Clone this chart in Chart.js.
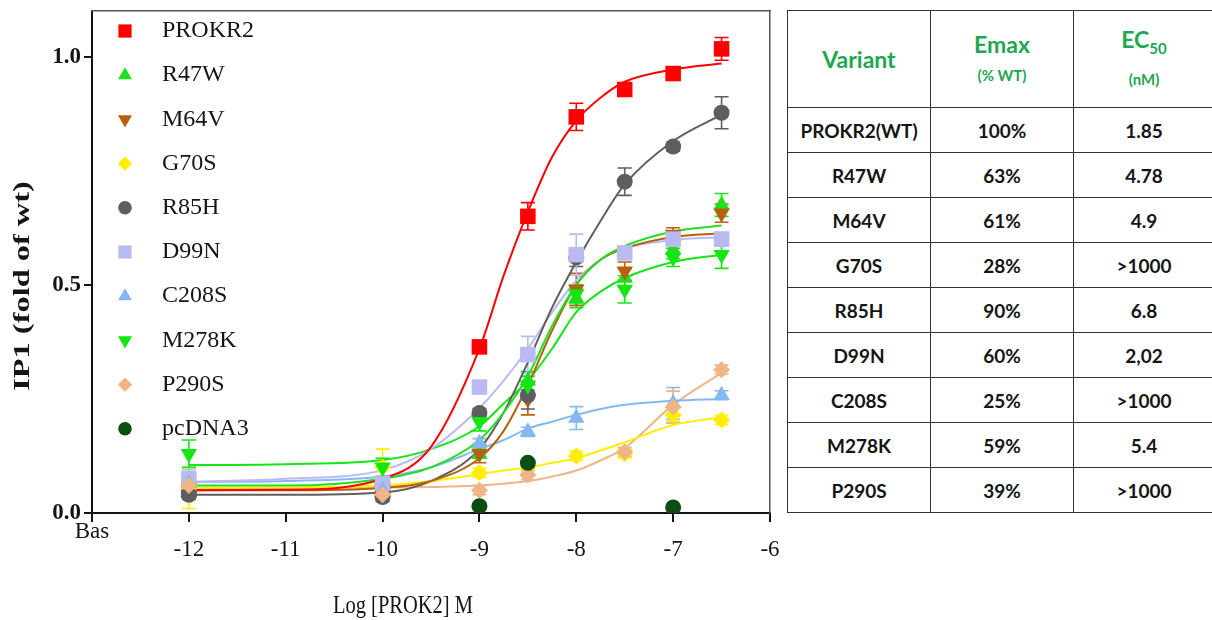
<!DOCTYPE html>
<html>
<head>
<meta charset="utf-8">
<script src="https://cdn.jsdelivr.net/npm/chart.js@4.4.1/dist/chart.umd.min.js"></script>
<style>
html,body{margin:0;padding:0;background:#fff;width:1212px;height:620px;overflow:hidden;}
#wrap{position:absolute;left:0;top:0;width:785px;height:620px;}
#tbl{position:absolute;left:787px;top:10px;border-collapse:collapse;table-layout:fixed;width:427px;
  font-family:Lato,"Open Sans",sans-serif;font-weight:700;}
#tbl td,#tbl th{border:1.5px solid #333;text-align:center;color:#151515;font-size:19px;padding:0;}
#tbl th{color:#22a650;font-size:23px;font-weight:700;line-height:28px;}
#tbl th small{font-size:15px;font-weight:700;}
#tbl th sub{font-size:15px;}
#tbl tbody tr{height:45px;}
</style>
</head>
<body>
<div id="wrap"><canvas id="c" width="785" height="620"></canvas></div>
<table id="tbl">
  <colgroup><col style="width:143px"><col style="width:143px"><col style="width:141px"></colgroup>
  <thead><tr style="height:97px"><th id="h0"></th><th id="h1"></th><th id="h2"></th></tr></thead>
  <tbody id="tb"></tbody>
</table>
<script>
// ---------- data ----------
const seriesNames = ['PROKR2','R47W','M64V','G70S','R85H','D99N','C208S','M278K','P290S','pcDNA3'];
const doses = [-12, -10, -9, -8.5, -8, -7.5, -7, -6.5];           // log[PROK2] M
const fitDoses = [-12, -11, -10, -9.5, -9, -8.75, -8.5, -8.25, -8, -7.75, -7.5, -7, -6.5];

const prokr2Vals = [0.05, 0.05, 0.364, 0.65, 0.868, 0.928, 0.963, 1.017];
const r47wVals   = [0.06, 0.07, 0.13, 0.29, 0.47, 0.515, 0.577, 0.675];
const m64vVals   = [0.05, 0.045, 0.13, 0.25, 0.49, 0.53, 0.61, 0.657];
const g70sVals   = [0.055, 0.10, 0.088, 0.10, 0.125, 0.13, 0.215, 0.204];
const r85hVals   = [0.04, 0.035, 0.219, 0.258, 0.56, 0.726, 0.803, 0.877];
const d99nVals   = [0.075, 0.065, 0.276, 0.347, 0.566, 0.57, 0.60, 0.60];
const c208sVals  = [0.065, 0.05, 0.153, 0.178, 0.208, null, 0.24, 0.258];
const m278kVals  = [0.13, 0.10, 0.20, 0.28, 0.48, 0.49, 0.56, 0.566];
const p290sVals  = [0.06, 0.04, 0.05, 0.083, null, 0.134, 0.232, 0.314];
const pcdna3Vals = [null, null, 0.015, 0.11, null, null, 0.012, null];

const prokr2Err = [0.01, 0.01, 0.01, 0.03, 0.03, 0.01, 0.01, 0.025];
const r47wErr   = [0.01, 0.01, 0.01, 0.02, 0.02, 0.02, 0.02, 0.025];
const m64vErr   = [0.01, 0.01, 0.02, 0.035, 0.035, 0.02, 0.015, 0.02];
const g70sErr   = [0.045, 0.04, 0.01, 0.01, 0.01, 0.01, 0.015, 0.01];
const r85hErr   = [0.01, 0.01, 0.01, 0.03, 0.02, 0.03, 0.01, 0.035];
const d99nErr   = [0.02, 0.01, 0.01, 0.04, 0.045, 0.01, 0.01, 0.015];
const c208sErr  = [0.01, 0.01, 0.01, 0.01, 0.025, 0, 0.035, 0.01];
const m278kErr  = [0.03, 0.02, 0.02, 0.02, 0.02, 0.03, 0.02, 0.03];
const p290sErr  = [0.01, 0.01, 0.01, 0.01, 0, 0.01, 0.035, 0.01];
const pcdna3Err = [0, 0, 0, 0, 0, 0, 0, 0];

const prokr2Fit = [0.05, 0.051, 0.075, 0.145, 0.36, 0.52, 0.66, 0.78, 0.86, 0.91, 0.945, 0.972, 0.985];
const r47wFit   = [0.06, 0.06, 0.075, 0.10, 0.16, 0.22, 0.30, 0.41, 0.50, 0.555, 0.585, 0.617, 0.63];
const m64vFit   = [0.05, 0.05, 0.055, 0.07, 0.12, 0.18, 0.28, 0.40, 0.50, 0.555, 0.58, 0.605, 0.613];
const g70sFit   = [0.055, 0.056, 0.06, 0.07, 0.085, 0.093, 0.10, 0.11, 0.12, 0.137, 0.155, 0.193, 0.21];
const r85hFit   = [0.04, 0.04, 0.045, 0.07, 0.14, 0.22, 0.33, 0.45, 0.55, 0.64, 0.72, 0.815, 0.873];
const d99nFit   = [0.068, 0.075, 0.094, 0.14, 0.23, 0.29, 0.36, 0.44, 0.51, 0.555, 0.58, 0.598, 0.605];
const c208sFit  = [0.068, 0.07, 0.08, 0.10, 0.14, 0.16, 0.185, 0.20, 0.215, 0.228, 0.237, 0.246, 0.25];
const m278kFit  = [0.105, 0.107, 0.116, 0.14, 0.19, 0.24, 0.29, 0.36, 0.44, 0.485, 0.515, 0.55, 0.566];
const p290sFit  = [0.055, 0.055, 0.056, 0.057, 0.06, 0.064, 0.07, 0.08, 0.093, 0.115, 0.143, 0.237, 0.307];
const pcdna3Fit = null;

const yTickValues = [0, 0.5, 1.0];
const basalLabel = 'Bas';
const xTitle = 'Log [PROK2] M';
const yTitle = 'IP1 (fold of wt)';

// table
const tableHeaders = ['Variant', 'Emax|(% WT)', 'EC50|(nM)'];
const tableVariants = ['PROKR2(WT)','R47W','M64V','G70S','R85H','D99N','C208S','M278K','P290S'];
const tableEmax = ['100%','63%','61%','28%','90%','60%','25%','59%','39%'];
const tableEC50 = ['1.85','4.78','4.9','>1000','6.8','2,02','>1000','5.4','>1000'];

// ---------- styles ----------
const styles = [
  {color:'#ff0000', shape:'rect',     rot:0,   r:11},
  {color:'#1ee01e', shape:'triangle', rot:0,   r:9.5},
  {color:'#b9600f', shape:'triangle', rot:180, r:9.5},
  {color:'#ffee00', shape:'rectRot',  rot:0,   r:8.5},
  {color:'#5e5e5e', shape:'circle',   rot:0,   r:8},
  {color:'#babaf2', shape:'rect',     rot:0,   r:11},
  {color:'#86b8f0', shape:'triangle', rot:0,   r:9.5},
  {color:'#14e614', shape:'triangle', rot:180, r:9.5},
  {color:'#efb587', shape:'rectRot',  rot:0,   r:8.5},
  {color:'#0b4d12', shape:'circle',   rot:0,   r:8}
];

const allVals = [prokr2Vals,r47wVals,m64vVals,g70sVals,r85hVals,d99nVals,c208sVals,m278kVals,p290sVals,pcdna3Vals];
const allErr  = [prokr2Err,r47wErr,m64vErr,g70sErr,r85hErr,d99nErr,c208sErr,m278kErr,p290sErr,pcdna3Err];
const allFit  = [prokr2Fit,r47wFit,m64vFit,g70sFit,r85hFit,d99nFit,c208sFit,m278kFit,p290sFit,pcdna3Fit];

// ---------- table build ----------
tableHeaders.forEach((h,i)=>{
  const parts = h.split('|');
  let main = parts[0].replace('EC50','EC<sub>50</sub>');
  document.getElementById('h'+i).innerHTML = main + (parts[1] ? '<br><small>'+parts[1]+'</small>' : '');
});
const tb = document.getElementById('tb');
tableVariants.forEach((v,i)=>{
  const tr = document.createElement('tr');
  [v, tableEmax[i], tableEC50[i]].forEach(t=>{ const td=document.createElement('td'); td.textContent=t; tr.appendChild(td); });
  tb.appendChild(tr);
});

// ---------- datasets ----------
const datasets = [];
seriesNames.forEach((name,k)=>{
  const st = styles[k];
  const pts = [];
  doses.forEach((x,i)=>{ if (allVals[k][i] != null) pts.push({x:x, y:allVals[k][i], e:allErr[k][i]}); });
  datasets.push({
    label:name, isPoints:true, data:pts, showLine:false, order:-k,
    pointStyle:st.shape, rotation:st.rot, pointRadius:st.r,
    backgroundColor:st.color, borderColor:st.color, pointBorderWidth:0
  });
});
seriesNames.forEach((name,k)=>{
  if (!allFit[k]) return;
  const st = styles[k];
  datasets.push({
    label:name+' fit', isFit:true, order:1,
    data: fitDoses.map((x,i)=>({x:x, y:allFit[k][i]})),
    showLine:true, pointRadius:0, borderColor:st.color, backgroundColor:st.color,
    borderWidth:2, cubicInterpolationMode:'monotone', fill:false
  });
});

function drawMarker(ctx, ds, x, y, scale){
  ctx.save();
  ctx.fillStyle = ds.backgroundColor;
  ctx.strokeStyle = ds.backgroundColor;
  Chart.helpers.drawPoint(ctx, {pointStyle:ds.pointStyle, rotation:ds.rotation, radius:ds.pointRadius*scale, borderWidth:0}, x, y);
  ctx.restore();
}

const serif = '"Liberation Serif", "Times New Roman", serif';

const errorBars = {
  id:'errorBars',
  beforeDatasetsDraw(chart){
    const ctx = chart.ctx, xs = chart.scales.x, ys = chart.scales.y;
    chart.data.datasets.forEach(ds=>{
      if (!ds.isPoints) return;
      ctx.save();
      ctx.strokeStyle = ds.borderColor; ctx.lineWidth = 1.6;
      ds.data.forEach(p=>{
        if (!p.e) return;
        const px = xs.getPixelForValue(p.x);
        const y1 = ys.getPixelForValue(p.y + p.e), y2 = ys.getPixelForValue(p.y - p.e);
        ctx.beginPath();
        ctx.moveTo(px, y1); ctx.lineTo(px, y2);
        ctx.moveTo(px-7, y1); ctx.lineTo(px+7, y1);
        ctx.moveTo(px-7, y2); ctx.lineTo(px+7, y2);
        ctx.stroke();
      });
      ctx.restore();
    });
  }
};

const insideLegend = {
  id:'insideLegend',
  afterDraw(chart){
    const ctx = chart.ctx;
    const items = chart.data.datasets.filter(d=>d.isPoints);
    const x0 = chart.chartArea.left + 33, top = chart.chartArea.top + 20, step = 44.2;
    items.forEach((ds,k)=>{
      const y = top + k*step;
      drawMarker(ctx, ds, x0, y, 0.85);
      ctx.save();
      ctx.fillStyle = '#151515';
      ctx.font = '24px ' + serif;
      ctx.textBaseline = 'middle';
      ctx.textAlign = 'left';
      ctx.fillText(ds.label, x0 + 37, y);
      ctx.restore();
    });
  }
};

const axisTitles = {
  id:'axisTitles',
  afterDraw(chart){
    const ctx = chart.ctx, ca = chart.chartArea;
    ctx.save();
    ctx.fillStyle = '#151515';
    ctx.textAlign = 'center'; ctx.textBaseline = 'middle';
    // y title (rotated, elongated like the reference)
    ctx.save();
    ctx.translate(23, (ca.top + ca.bottom)/2 + 24);
    ctx.rotate(-Math.PI/2);
    ctx.scale(1.35, 1);
    ctx.font = 'bold 24px ' + serif;
    ctx.fillText(yTitle, 0, 0);
    ctx.restore();
    // x title (condensed like the reference)
    ctx.save();
    ctx.translate((ca.left + ca.right)/2 - 28, 606);
    ctx.scale(0.82, 1);
    ctx.font = '25px ' + serif;
    ctx.fillText(xTitle, 0, 0);
    ctx.restore();
    ctx.restore();
  }
};

new Chart(document.getElementById('c'), {
  type:'scatter',
  data:{datasets:datasets},
  plugins:[errorBars, insideLegend, axisTitles],
  options:{
    responsive:false, animation:false, devicePixelRatio:1, events:[],
    layout:{padding:0},
    plugins:{legend:{display:false}, tooltip:{enabled:false}},
    scales:{
      x:{
        type:'linear', position:'bottom', min:-13, max:-6,
        afterFit(s){ s.height = 107; s.paddingLeft = 0; s.paddingRight = 0; },
        ticks:{stepSize:1, padding:1, color:'#151515', font:{family:serif, size:23, lineHeight:0.78},
          callback(v){ return v === -13 ? basalLabel : ['', String(v)]; }},
        grid:{display:true, drawOnChartArea:false, drawTicks:true, tickLength:9, color:'#151515', lineWidth:2},
        border:{display:true, color:'#151515', width:2},
        title:{display:false}
      },
      y:{
        type:'linear', position:'left', min:0, max:1.1,
        afterFit(s){ s.width = 92; s.paddingTop = 0; s.paddingBottom = 0; },
        afterBuildTicks(s){ s.ticks = yTickValues.map(v=>({value:v})); },
        ticks:{padding:3, color:'#151515', font:{family:serif, size:23, weight:'bold'},
          callback(v){ return Number(v).toFixed(1); }},
        grid:{display:true, drawOnChartArea:false, drawTicks:true, tickLength:8, color:'#151515', lineWidth:2},
        border:{display:true, color:'#151515', width:2},
        title:{display:false}
      },
      x2:{
        type:'linear', position:'top', min:-13, max:-6, display:true,
        afterFit(s){ s.height = 10; s.paddingLeft = 0; s.paddingRight = 0; },
        ticks:{display:false}, grid:{display:false, drawTicks:false},
        border:{display:true, color:'#555', width:1.5}
      },
      y2:{
        type:'linear', position:'right', min:0, max:1.1, display:true,
        afterFit(s){ s.width = 15; s.paddingTop = 0; s.paddingBottom = 0; },
        ticks:{display:false}, grid:{display:false, drawTicks:false},
        border:{display:true, color:'#555', width:1.5}
      }
    }
  }
});
</script>
</body>
</html>
